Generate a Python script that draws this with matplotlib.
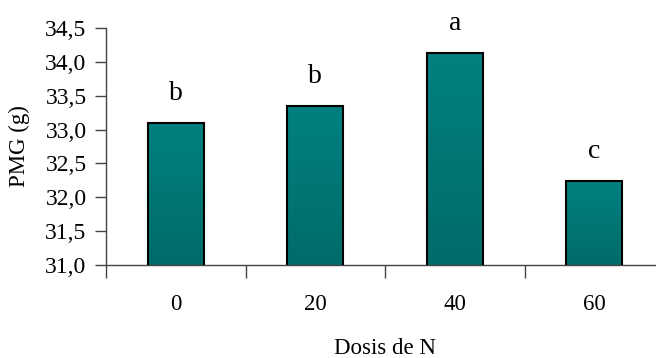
import numpy as np
import matplotlib
matplotlib.use('Agg')
import matplotlib.pyplot as plt
from matplotlib.ticker import FuncFormatter, FixedLocator
from matplotlib.colors import LinearSegmentedColormap

# data
dosis = ['0', '20', '40', '60']
pmg = [33.1, 33.35, 34.13, 32.24]
letras = ['b', 'b', 'a', 'c']

plt.rcParams['font.family'] = ['Liberation Serif', 'DejaVu Serif']

fig = plt.figure(figsize=(6.56, 3.58), dpi=100)
ax = fig.add_axes([106/656, 1-265/358, 558/656, 237/358])

x = np.arange(len(dosis))
bars = ax.bar(x, pmg, width=0.4, color='#007a78', edgecolor='black', linewidth=1.5, zorder=2)

# vertical gradient inside each bar
cmap = LinearSegmentedColormap.from_list('teal', ['#006c6a', '#008080'])
grad = np.linspace(0, 1, 256).reshape(-1, 1)
for b in bars:
    x0, w, h = b.get_x(), b.get_width(), b.get_height()
    im = ax.imshow(grad, cmap=cmap, aspect='auto', origin='lower',
                   extent=[x0, x0 + w, 31.0, h], zorder=2)
    im.set_clip_path(b)
    b.set_facecolor('none')
    b.set_zorder(3)

# letters of significance above bars
for xi, v, l in zip(x, pmg, letras):
    ax.text(xi, v + 0.25, l, ha='center', va='bottom', fontsize=20)

ax.set_xlim(-0.5, 3.5)
ax.set_ylim(31.0, 34.5)
ax.set_yticks(np.arange(31.0, 34.51, 0.5))
ax.yaxis.set_major_formatter(FuncFormatter(lambda v, p: f'{v:.1f}'.replace('.', ',')))

ax.xaxis.set_major_locator(FixedLocator([-0.5, 0.5, 1.5, 2.5, 3.5]))
ax.xaxis.set_minor_locator(FixedLocator(x))
ax.set_xticklabels([])
ax.set_xticklabels(dosis, minor=True)
ax.tick_params(axis='x', which='major', length=9, width=1, color='#444444')
ax.tick_params(axis='x', which='minor', length=0, pad=21, labelsize=16.5)
ax.tick_params(axis='y', length=8, width=1, color='#444444', labelsize=17, pad=6)

for s in ['top', 'right']:
    ax.spines[s].set_visible(False)
for s in ['left', 'bottom']:
    ax.spines[s].set_color('#444444')
    ax.spines[s].set_linewidth(1)

ax.set_ylabel('PMG (g)', fontsize=16.5)
ax.yaxis.set_label_coords(-0.137, 0.5)
fig.text(385/656, 1-348/358, 'Dosis de N', ha='center', va='center', fontsize=16.5)

fig.savefig('out.png', dpi=100)
